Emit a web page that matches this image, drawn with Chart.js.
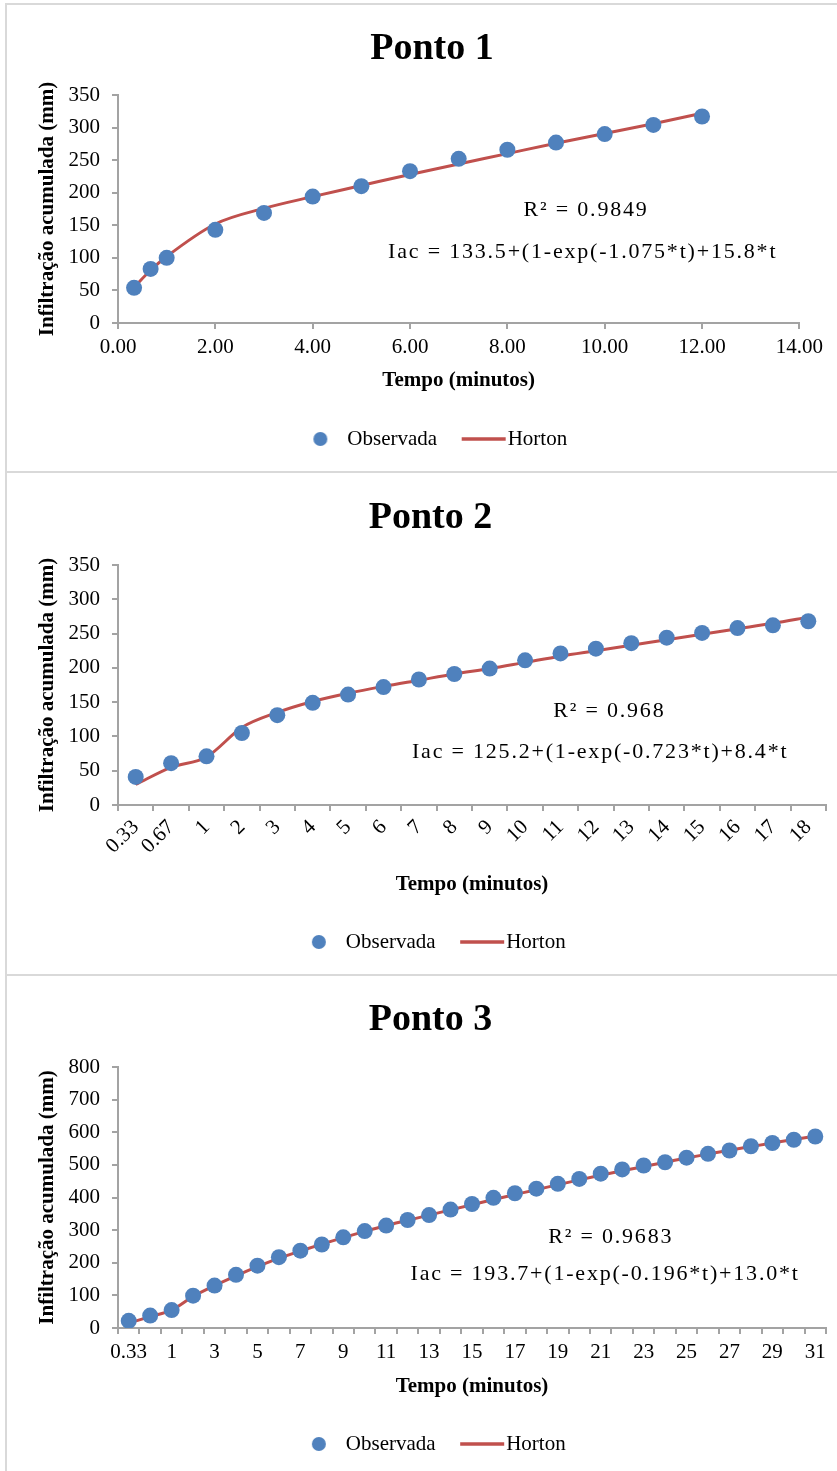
<!DOCTYPE html>
<html>
<head>
<meta charset="utf-8">
<script src="https://cdn.jsdelivr.net/npm/chart.js@4.4.1/dist/chart.umd.min.js"></script>
<style>
  html, body { margin: 0; background: #fff; width: 837px; height: 1471px; overflow: hidden; }
  .panel { position: absolute; left: 5px; width: 832px; box-sizing: border-box;
           border-left: 2px solid #d9d9d9; border-top: 2px solid #d9d9d9; }
  .wrap { position: absolute; left: 8px; }
</style>
</head>
<body>
<div class="panel" style="top:3px;height:469px"></div>
<div class="panel" style="top:471px;height:504px"></div>
<div class="panel" style="top:974px;height:497px"></div>
<div class="wrap" style="top:6px;width:821px;height:465px"><canvas id="c1"></canvas></div>
<div class="wrap" style="top:475px;width:829px;height:499px"><canvas id="c2"></canvas></div>
<div class="wrap" style="top:978px;width:829px;height:493px"><canvas id="c3"></canvas></div>
<script>
// Infiltração acumulada: observed points vs Horton fit, three test points

// ---- Ponto 1 (linear time axis) ----
const tempo1 = [0.33, 0.67, 1, 2, 3, 4, 5, 6, 7, 8, 9, 10, 11, 12];
const obs1 = [54, 83, 100, 143, 169, 194, 210, 233, 252, 266, 277, 290, 304, 317];
const horton1 = [55, 81, 102, 152, 176, 194, 211, 228, 244, 260, 276, 291, 306, 322];
const notes1 = ["R² = 0.9849", "Iac = 133.5+(1-exp(-1.075*t)+15.8*t"];

// ---- Ponto 2 (category axis) ----
const tempo2 = ["0.33", "0.67", "1", "2", "3", "4", "5", "6", "7", "8", "9", "10",
                "11", "12", "13", "14", "15", "16", "17", "18"];
const obs2 = [41, 61, 71, 105, 131, 149, 161, 172, 183, 191, 199, 211, 221, 228, 236, 244, 251, 258, 262, 268];
const horton2 = [30, 55, 70, 113, 135, 151, 163, 173, 182, 191, 199, 208, 217, 225, 233, 241, 249, 257, 265, 274];
const notes2 = ["R² = 0.968", "Iac = 125.2+(1-exp(-0.723*t)+8.4*t"];

// ---- Ponto 3 (category axis, every other label) ----
const tempo3 = ["0.33", "0.67", "1", "2", "3", "4", "5", "6", "7", "8", "9", "10",
                "11", "12", "13", "14", "15", "16", "17", "18", "19", "20", "21", "22",
                "23", "24", "25", "26", "27", "28", "29", "30", "31"];
const obs3 = [22, 38, 55, 99, 130, 163, 191, 217, 237, 256, 278, 297, 314, 331, 346, 363, 380,
              399, 413, 427, 442, 457, 473, 486, 498, 508, 522, 534, 544, 557, 567, 577, 587];
const horton3 = [15, 35, 55, 97, 130, 160, 188, 214, 236, 257, 277, 296, 314, 330, 346, 362, 378,
                 394, 409, 424, 439, 454, 468, 482, 495, 508, 521, 533, 545, 556, 567, 578, 588];
const notes3 = ["R² = 0.9683", "Iac = 193.7+(1-exp(-0.196*t)+13.0*t"];

const BLUE = "#4f81bd", RED = "#c0504d", AXIS = "#a3a3a3";
const FONT = "'Liberation Serif', 'Times New Roman', serif";
Chart.defaults.font.family = FONT;
Chart.defaults.color = "#000";

// text boxes (R², equation) placed as a fraction of the plot area
const notesPlugin = {
  id: "notes",
  afterDatasetsDraw(chart, args, opts) {
    const a = chart.chartArea, ctx = chart.ctx;
    ctx.save();
    ctx.font = "22px " + FONT;
    ctx.letterSpacing = "1.8px";
    ctx.fillStyle = "#000";
    ctx.textAlign = "center";
    ctx.textBaseline = "middle";
    opts.items.forEach(n => ctx.fillText(n.text, a.left + n.fx * (a.right - a.left), a.top + n.fy * (a.bottom - a.top)));
    ctx.restore();
  }
};

// legend marks: dot for observed, short line for Horton (drawn just left of the label text)
const LEG_BOX = 40, LEG_FS = 21, LEG_PAD = 20;
function legendMark(kind) {
  const c = document.createElement("canvas");
  c.width = LEG_BOX + LEG_FS; c.height = 16;
  const g = c.getContext("2d");
  const end = c.width - 2;
  if (kind === "dot") {
    g.fillStyle = BLUE; g.beginPath(); g.arc(end - 25, 8, 7, 0, Math.PI * 2); g.fill();
  } else {
    g.strokeStyle = RED; g.lineWidth = 3.5; g.beginPath(); g.moveTo(end - 44, 8); g.lineTo(end, 8); g.stroke();
  }
  return c;
}
const marks = [legendMark("dot"), legendMark("line")];

// vertical placement targets (canvas px): title centre, plot top/bottom, x title centre, legend centre
function lay(t) {
  const titleLH = 38 * 1.2;
  const padTop = t.title - titleLH / 2;
  const legendTop = t.legend - LEG_PAD - LEG_FS / 2;
  return {
    padTop,
    titlePadBottom: t.top - padTop - titleLH,
    xHeight: legendTop - t.bottom,
    xTitlePad: legendTop - (21 * 1.2) / 2 - t.xTitle,
    padBottom: t.h - (legendTop + LEG_FS + LEG_PAD + 10)
  };
}

function makeChart(id, title, cfg) {
  const L = lay(cfg.lay);
  return new Chart(document.getElementById(id), {
    type: cfg.type,
    data: cfg.data,
    plugins: [notesPlugin],
    options: {
      responsive: true, maintainAspectRatio: false, animation: false,
      layout: { padding: { top: L.padTop, bottom: L.padBottom, left: 27, right: cfg.padRight } },
      plugins: {
        title: { display: true, text: title, font: { size: 38, weight: "bold" }, color: "#000",
                 padding: { top: 0, bottom: L.titlePadBottom } },
        legend: {
          position: "bottom",
          labels: {
            usePointStyle: true, pointStyleWidth: LEG_BOX, padding: LEG_PAD,
            font: { size: LEG_FS }, color: "#000",
            generateLabels: chart => Chart.defaults.plugins.legend.labels.generateLabels(chart)
              .map((item, i) => Object.assign(item, { pointStyle: marks[i] }))
          }
        },
        tooltip: { enabled: false },
        notes: { items: cfg.notes }
      },
      scales: {
        x: Object.assign({
          border: { display: true, color: AXIS, width: 2 },
          grid: { drawOnChartArea: false, drawTicks: true, tickLength: 6, color: AXIS, lineWidth: 2 },
          title: { display: true, text: "Tempo (minutos)", font: { size: 21, weight: "bold" },
                   padding: { top: 0, bottom: L.xTitlePad } },
          afterFit: s => { s.height = L.xHeight; }
        }, cfg.x),
        y: {
          min: 0, max: cfg.yMax,
          border: { display: true, color: AXIS, width: 2 },
          grid: { drawOnChartArea: false, drawTicks: true, tickLength: 6, color: AXIS, lineWidth: 2 },
          ticks: { stepSize: cfg.yStep, padding: 12, font: { size: 21 } },
          title: { display: true, text: "Infiltração acumulada (mm)", font: { size: 21, weight: "bold" },
                   padding: { top: 0, bottom: 0 } },
          afterFit: s => { s.width = 83; }
        }
      }
    }
  });
}

const dotSet = data => ({ label: "Observada", data, showLine: false, order: 0,
  pointRadius: 8, pointHoverRadius: 8, pointBackgroundColor: BLUE, pointBorderWidth: 0, backgroundColor: BLUE, borderColor: BLUE });
const lineSet = data => ({ label: "Horton", data, showLine: true, order: 1,
  borderColor: RED, backgroundColor: RED, borderWidth: 3, pointRadius: 0, tension: 0.3, cubicInterpolationMode: "monotone" });

makeChart("c1", "Ponto 1", {
  type: "scatter",
  data: { datasets: [
    dotSet(tempo1.map((x, i) => ({ x, y: obs1[i] }))),
    lineSet(tempo1.map((x, i) => ({ x, y: horton1[i] })))
  ] },
  x: { type: "linear", min: 0, max: 14,
       ticks: { stepSize: 2, padding: 6, font: { size: 21 }, callback: v => Number(v).toFixed(2) } },
  yMax: 350, yStep: 50, padRight: 0,
  lay: { h: 465, title: 43, top: 89, bottom: 317, xTitle: 375, legend: 433 },
  notes: [{ text: notes1[0], fx: 0.687, fy: 0.504 }, { text: notes1[1], fx: 0.682, fy: 0.689 }]
});

makeChart("c2", "Ponto 2", {
  type: "line",
  data: { labels: tempo2, datasets: [dotSet(obs2), lineSet(horton2)] },
  x: { type: "category", offset: true, grid: { offset: true, drawOnChartArea: false, tickLength: 6, color: AXIS, lineWidth: 2 },
       ticks: { autoSkip: false, minRotation: 45, maxRotation: 45, padding: 4, font: { size: 21 } } },
  yMax: 350, yStep: 50, padRight: 11,
  lay: { h: 499, title: 43, top: 90, bottom: 330, xTitle: 410, legend: 467 },
  notes: [{ text: notes2[0], fx: 0.694, fy: 0.608 }, { text: notes2[1], fx: 0.681, fy: 0.779 }]
});

makeChart("c3", "Ponto 3", {
  type: "line",
  data: { labels: tempo3, datasets: [dotSet(obs3), lineSet(horton3)] },
  x: { type: "category", offset: true, grid: { offset: true, drawOnChartArea: false, tickLength: 6, color: AXIS, lineWidth: 2 },
       ticks: { autoSkip: false, maxRotation: 0, padding: 6, font: { size: 21 },
                callback: (v, i) => (i % 2 ? "" : tempo3[i]) } },
  yMax: 800, yStep: 100, padRight: 11,
  lay: { h: 493, title: 42, top: 89, bottom: 350, xTitle: 409, legend: 466 },
  notes: [{ text: notes3[0], fx: 0.696, fy: 0.651 }, { text: notes3[1], fx: 0.688, fy: 0.793 }]
});
</script>
</body>
</html>
